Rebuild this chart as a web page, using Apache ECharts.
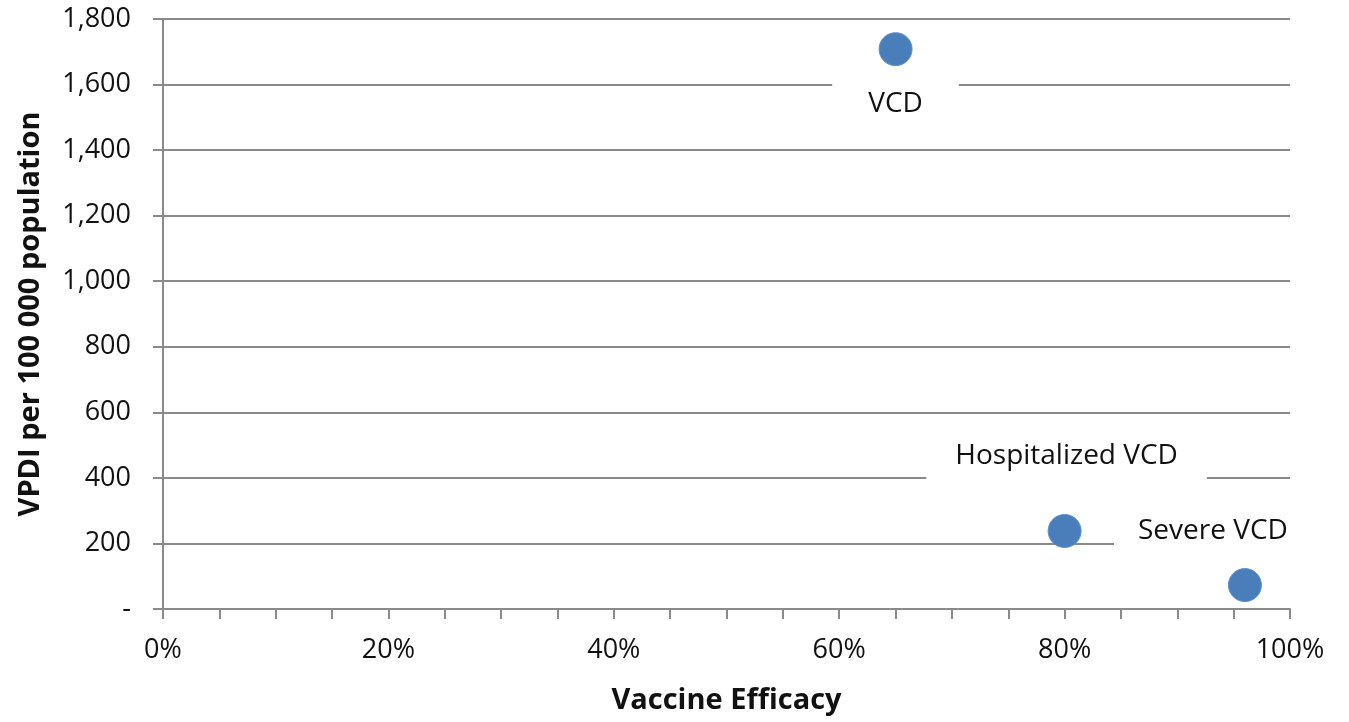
<!DOCTYPE html>
<html>
<head>
<meta charset="utf-8">
<script src="https://cdn.jsdelivr.net/npm/echarts@6/dist/echarts.min.js"></script>
<style>html,body{margin:0;padding:0;background:#fff}#c{width:1349px;height:722px}</style>
</head>
<body>
<div id="c"></div>
<script>
const names = ['VCD', 'Hospitalized VCD', 'Severe VCD'];
const efficacy = [0.65, 0.80, 0.96];
const vpdi = [1708, 238, 73];
const xTicks = [0, 0.2, 0.4, 0.6, 0.8, 1.0];
const yTicks = [0, 200, 400, 600, 800, 1000, 1200, 1400, 1600, 1800];

const FONT = 'Open Sans';
const labelCfg = [
  {offset: [0, 55], padding: [14, 36]},
  {offset: [2, -75], padding: [18, 29, 26, 29]},
  {offset: [-32, -54], padding: [14, 24]}
];
const data = names.map((n, i) => ({
  name: n,
  value: [efficacy[i], vpdi[i]],
  label: {
    show: true, position: 'inside', formatter: n,
    offset: labelCfg[i].offset, padding: labelCfg[i].padding,
    backgroundColor: '#ffffff', color: '#111', fontFamily: FONT, fontSize: 28
  }
}));

const chart = echarts.init(document.getElementById('c'));
const grey = '#8a8a8a';
chart.setOption({
  animation: false,
  grid: {left: 163, right: 59, top: 19, bottom: 113},
  xAxis: {
    type: 'value', min: xTicks[0], max: xTicks[xTicks.length - 1], interval: 0.2,
    axisLine: {show: true, lineStyle: {color: grey, width: 2}},
    axisTick: {show: true, length: 10, lineStyle: {color: grey, width: 2}},
    minorTick: {show: true, splitNumber: 4, length: 10, lineStyle: {color: grey, width: 2}},
    splitLine: {show: false},
    axisLabel: {formatter: v => Math.round(v * 100) + '%', margin: 28, fontFamily: FONT, fontSize: 27, color: '#111'},
    name: 'Vaccine Efficacy', nameLocation: 'middle', nameGap: 77,
    nameTextStyle: {fontFamily: FONT, fontSize: 29, fontWeight: 'bold', color: '#111'}
  },
  yAxis: {
    type: 'value', min: yTicks[0], max: yTicks[yTicks.length - 1], interval: 200,
    axisLine: {show: true, lineStyle: {color: grey, width: 2}},
    axisTick: {show: true, length: 10, lineStyle: {color: grey, width: 2}},
    splitLine: {show: true, lineStyle: {color: grey, width: 2}},
    axisLabel: {formatter: v => v === 0 ? '-' : v.toLocaleString('en-US'), margin: 32, fontFamily: FONT, fontSize: 27, color: '#111'},
    name: 'VPDI per 100 000 population', nameLocation: 'middle', nameGap: 118,
    nameTextStyle: {fontFamily: FONT, fontSize: 29, fontWeight: 'bold', color: '#111'}
  },
  series: [{
    type: 'scatter', symbolSize: 33, data: data,
    itemStyle: {color: '#4a7ebb', borderColor: '#5b8fd0', borderWidth: 1, opacity: 1}
  }]
});
</script>
</body>
</html>
